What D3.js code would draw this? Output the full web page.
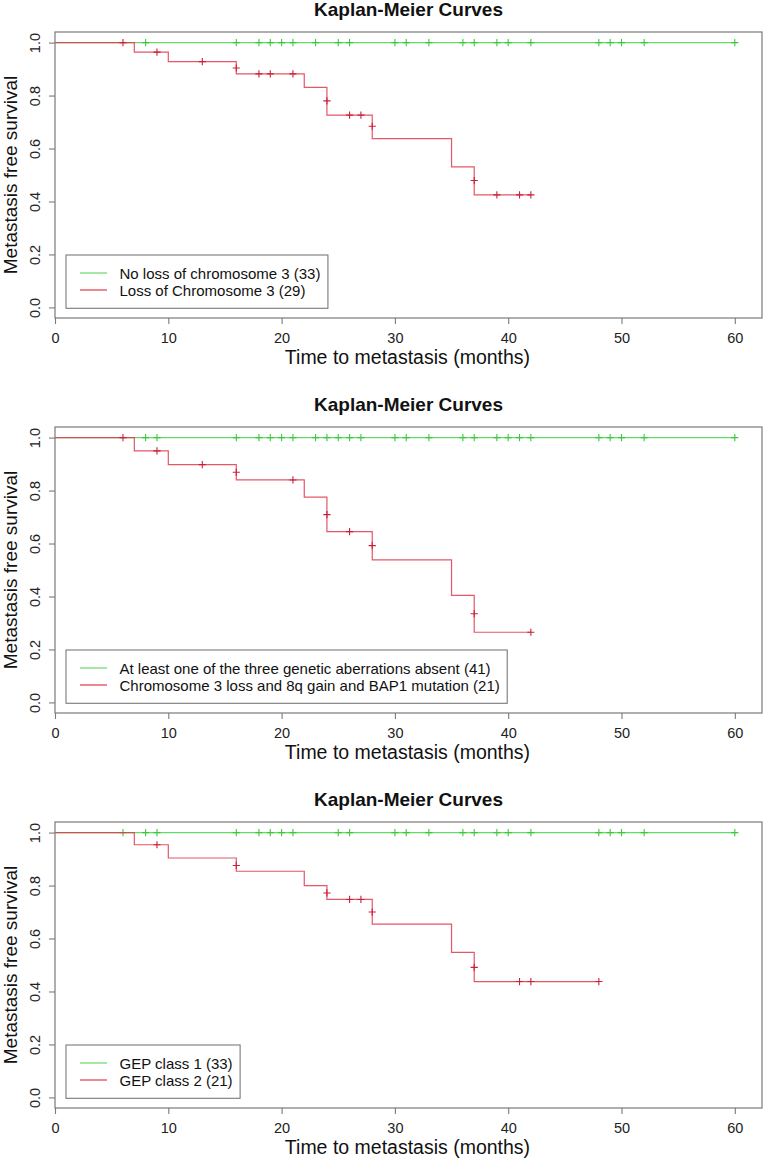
<!DOCTYPE html>
<html>
<head>
<meta charset="utf-8">
<script src="https://cdnjs.cloudflare.com/ajax/libs/d3/7.8.5/d3.min.js"></script>
<style>
  html, body { margin: 0; padding: 0; background: #fff; }
  svg { display: block; }
  text { font-family: "Liberation Sans", Arial, Helvetica, sans-serif; }
</style>
</head>
<body>
<div id="chart"></div>
<script>
// ---------------- DATA ----------------
const chartTitle = "Kaplan-Meier Curves";
const xAxisTitle = "Time to metastasis (months)";
const yAxisTitle = "Metastasis free survival";
const xTickValues = [0, 10, 20, 30, 40, 50, 60];
const yTickValues = [0.0, 0.2, 0.4, 0.6, 0.8, 1.0];

// Panel 1
const p1Legend = ["No loss of chromosome 3 (33)", "Loss of Chromosome 3 (29)"];
const p1GreenEnd = 60;
const p1GreenCensor = [8, 16, 18, 19, 20, 21, 23, 25, 26, 30, 31, 33, 36, 37, 39, 40, 42, 48, 49, 50, 52, 60];
const p1RedStepTimes = [0, 7, 10, 16, 22, 24, 28, 35, 37];
const p1RedStepSurv  = [1.0, 0.964, 0.928, 0.882, 0.831, 0.726, 0.637, 0.531, 0.425];
const p1RedEnd = 42;
const p1RedCensorTimes = [6, 9, 13, 16, 18, 19, 21, 24, 26, 27, 28, 37, 39, 41, 42];
const p1RedCensorSurv  = [1.0, 0.964, 0.928, 0.904, 0.882, 0.882, 0.882, 0.78, 0.726, 0.726, 0.684, 0.479, 0.425, 0.425, 0.425];

// Panel 2
const p2Legend = ["At least one of the three genetic aberrations absent (41)", "Chromosome 3 loss and 8q gain and BAP1 mutation (21)"];
const p2GreenEnd = 60;
const p2GreenCensor = [8, 9, 16, 18, 19, 20, 21, 23, 24, 25, 26, 27, 30, 31, 33, 36, 37, 39, 40, 41, 42, 48, 49, 50, 52, 60];
const p2RedStepTimes = [0, 7, 10, 16, 22, 24, 28, 35, 37];
const p2RedStepSurv  = [1.0, 0.950, 0.898, 0.840, 0.775, 0.645, 0.538, 0.404, 0.265];
const p2RedEnd = 42;
const p2RedCensorTimes = [6, 9, 13, 16, 21, 24, 26, 28, 37, 42];
const p2RedCensorSurv  = [1.0, 0.950, 0.898, 0.869, 0.840, 0.709, 0.645, 0.592, 0.335, 0.265];

// Panel 3
const p3Legend = ["GEP class 1 (33)", "GEP class 2 (21)"];
const p3GreenEnd = 60;
const p3GreenCensor = [6, 8, 9, 16, 18, 19, 20, 21, 25, 26, 30, 31, 33, 36, 37, 39, 40, 42, 48, 49, 50, 52, 60];
const p3RedStepTimes = [0, 7, 10, 16, 22, 24, 28, 35, 37];
const p3RedStepSurv  = [1.0, 0.954, 0.904, 0.854, 0.800, 0.7475, 0.654, 0.5475, 0.4375];
const p3RedEnd = 48;
const p3RedCensorTimes = [9, 16, 24, 26, 27, 28, 37, 41, 42, 48];
const p3RedCensorSurv  = [0.954, 0.876, 0.772, 0.7475, 0.7475, 0.700, 0.491, 0.4375, 0.4375, 0.4375];

// ---------------- LAYOUT ----------------
const W = 764, H = 1160;
const panelOffsets = [0, 395, 790];
const plotLeft = 55, plotRight = 762, plotTop = 32, plotBottom = 318;
const greenCol = "#66da66";
const redCol = "#e0384e";
const boxCol = "#7a7a7a";

const panels = [
  {legend: p1Legend, gEnd: p1GreenEnd, gC: p1GreenCensor, rT: p1RedStepTimes, rS: p1RedStepSurv, rEnd: p1RedEnd, rCT: p1RedCensorTimes, rCS: p1RedCensorSurv},
  {legend: p2Legend, gEnd: p2GreenEnd, gC: p2GreenCensor, rT: p2RedStepTimes, rS: p2RedStepSurv, rEnd: p2RedEnd, rCT: p2RedCensorTimes, rCS: p2RedCensorSurv},
  {legend: p3Legend, gEnd: p3GreenEnd, gC: p3GreenCensor, rT: p3RedStepTimes, rS: p3RedStepSurv, rEnd: p3RedEnd, rCT: p3RedCensorTimes, rCS: p3RedCensorSurv}
];

const svg = d3.select("#chart").append("svg")
  .attr("width", W).attr("height", H).attr("viewBox", `0 0 ${W} ${H}`);

const x = d3.scaleLinear().domain([0, 62.4]).range([plotLeft, plotRight]);
const y = d3.scaleLinear().domain([-0.04, 1.04]).range([plotBottom, plotTop]);

const stepLine = d3.line().x(d => x(d[0])).y(d => y(d[1])).curve(d3.curveStepAfter);

function censorMarks(g, pts, color) {
  const s = 3.6;
  g.selectAll(null).data(pts).enter().append("path")
    .attr("d", d => {
      const cx = x(d[0]), cy = y(d[1]);
      return `M${cx - s},${cy}H${cx + s}M${cx},${cy - s}V${cy + s}`;
    })
    .attr("stroke", color).attr("stroke-width", 1.1).attr("fill", "none");
}

panels.forEach((p, i) => {
  const g = svg.append("g").attr("transform", `translate(0,${panelOffsets[i]})`);

  // title
  g.append("text").attr("x", (plotLeft + plotRight) / 2).attr("y", 16)
    .attr("text-anchor", "middle").attr("font-weight", "bold")
    .attr("font-size", 19).attr("fill", "#111").text(chartTitle);

  // green curve (no events)
  const gPts = [[0, 1.0], [p.gEnd, 1.0]];
  g.append("path").datum(gPts).attr("d", stepLine)
    .attr("stroke", greenCol).attr("stroke-width", 1.2).attr("fill", "none");
  censorMarks(g, p.gC.map(t => [t, 1.0]), "#3cc83c");

  // red curve
  const rPts = p.rT.map((t, k) => [t, p.rS[k]]);
  rPts.push([p.rEnd, p.rS[p.rS.length - 1]]);
  g.append("path").datum(rPts).attr("d", stepLine)
    .attr("stroke", redCol).attr("stroke-width", 1.2).attr("fill", "none")
    .attr("stroke-opacity", 0.85);
  censorMarks(g, p.rCT.map((t, k) => [t, p.rCS[k]]), "#cc1f3a");

  // box
  g.append("rect").attr("x", plotLeft).attr("y", plotTop)
    .attr("width", plotRight - plotLeft).attr("height", plotBottom - plotTop)
    .attr("fill", "none").attr("stroke", boxCol).attr("stroke-width", 1.2);

  // x axis
  const xa = g.append("g").attr("transform", `translate(0,${plotBottom})`)
    .call(d3.axisBottom(x).tickValues(xTickValues).tickSize(6).tickPadding(9).tickFormat(d3.format("d")));
  xa.select(".domain").remove();
  xa.selectAll(".tick line").attr("stroke", boxCol).attr("stroke-width", 1.1);
  xa.selectAll(".tick text").attr("font-size", 14.5).attr("fill", "#222")
    .attr("font-family", "'Liberation Sans', Arial, sans-serif");

  // y axis
  const ya = g.append("g").attr("transform", `translate(${plotLeft},0)`)
    .call(d3.axisLeft(y).tickValues(yTickValues).tickSize(6).tickFormat(d3.format(".1f")));
  ya.select(".domain").remove();
  ya.selectAll(".tick line").attr("stroke", boxCol).attr("stroke-width", 1.1);
  ya.selectAll(".tick text")
    .attr("x", null).attr("dy", null)
    .attr("transform", "translate(-15,0) rotate(-90)")
    .attr("text-anchor", "middle")
    .attr("font-size", 14.5).attr("fill", "#222")
    .attr("font-family", "'Liberation Sans', Arial, sans-serif");

  // axis titles
  g.append("text").attr("x", 407.5).attr("y", 364)
    .attr("text-anchor", "middle").attr("font-size", 19.5).attr("fill", "#111").text(xAxisTitle);
  g.append("text").attr("transform", `translate(17,${(plotTop + plotBottom) / 2}) rotate(-90)`)
    .attr("text-anchor", "middle").attr("font-size", 19).attr("fill", "#111").text(yAxisTitle);

  // legend
  const lg = g.append("g");
  const lbox = lg.append("rect").attr("x", 66).attr("y", 255).attr("height", 53.3)
    .attr("fill", "#fff").attr("stroke", boxCol).attr("stroke-width", 1.1);
  const cols = [greenCol, redCol];
  const ly = [273, 290];
  let maxEnd = 0;
  p.legend.forEach((lab, k) => {
    lg.append("line").attr("x1", 80).attr("x2", 107).attr("y1", ly[k]).attr("y2", ly[k])
      .attr("stroke", cols[k]).attr("stroke-width", 1.2);
    const t = lg.append("text").attr("x", 119.5).attr("y", ly[k] + 6)
      .attr("font-size", 15).attr("fill", "#111").text(lab);
    maxEnd = Math.max(maxEnd, 119.5 + t.node().getComputedTextLength());
  });
  lbox.attr("width", maxEnd + 7.5 - 66);
});
</script>
</body>
</html>
